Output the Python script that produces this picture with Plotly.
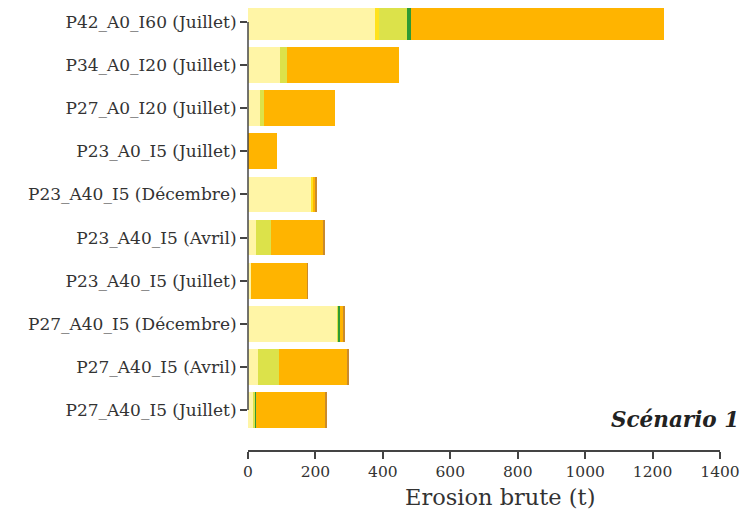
import plotly.graph_objects as go

categories = [
    "P42_A0_I60 (Juillet)",
    "P34_A0_I20 (Juillet)",
    "P27_A0_I20 (Juillet)",
    "P23_A0_I5 (Juillet)",
    "P23_A40_I5 (Décembre)",
    "P23_A40_I5 (Avril)",
    "P23_A40_I5 (Juillet)",
    "P27_A40_I5 (Décembre)",
    "P27_A40_I5 (Avril)",
    "P27_A40_I5 (Juillet)",
]

classe1 = [377, 95, 36, 0, 187, 24, 8, 265, 30, 16]
classe2 = [12, 0, 0, 0, 6, 0, 0, 0, 0, 0]
classe3 = [83, 22, 12, 0, 0, 43, 0, 4, 62, 6]
classe4 = [12, 0, 0, 0, 0, 0, 0, 4, 0, 2]
classe5 = [751, 330, 210, 85, 6, 157, 167, 9, 202, 206]
classe6 = [0, 0, 0, 0, 6, 3, 2, 6, 3, 2]

series = [
    ("Classe 1", classe1, "#FFF5A6"),
    ("Classe 2", classe2, "#FFE21C"),
    ("Classe 3", classe3, "#DCE24A"),
    ("Classe 4", classe4, "#2E9A34"),
    ("Classe 5", classe5, "#FFB400"),
    ("Classe 6", classe6, "#C98A2C"),
]

xticks = [0, 200, 400, 600, 800, 1000, 1200, 1400]

ypos = list(range(len(categories)))
cats_bt = categories[::-1]

fig = go.Figure()
for name, vals, col in series:
    fig.add_trace(go.Bar(
        y=ypos, x=vals[::-1], name=name, orientation="h",
        marker=dict(color=col, line=dict(width=0)),
        width=0.83, showlegend=False,
    ))

font_family = "DejaVu Serif"
txt = "#333333"

fig.update_layout(
    barmode="stack",
    width=744, height=505,
    margin=dict(l=240, r=32, t=0, b=63, autoexpand=False),
    plot_bgcolor="white", paper_bgcolor="white",
    font=dict(family=font_family, color=txt, size=15),
    xaxis=dict(
        range=[0, 1400], tickvals=xticks, ticktext=[str(v) for v in xticks],
        showline=True, linecolor="#444", linewidth=1.5,
        ticks="outside", ticklen=7, tickwidth=1.5, tickcolor="#444",
        showgrid=False, zeroline=False, automargin=False,
        tickfont=dict(size=15.5, family=font_family, color=txt),
    ),
    yaxis=dict(
        range=[-0.928, 9.325], tickvals=ypos, ticktext=cats_bt,
        showline=False, ticks="outside", ticklen=7, tickwidth=1.5, tickcolor="#444",
        showgrid=False, zeroline=False, automargin=False,
        tickfont=dict(size=17, family=font_family, color=txt),
    ),
)

# y-axis line spanning first to last category (R-style axis)
fig.add_shape(type="line", xref="paper", yref="y", x0=0, x1=0,
              y0=ypos[0], y1=ypos[-1], line=dict(color="#444", width=1.5))

# x-axis title (offset to the right as in the original)
fig.add_annotation(text="Erosion brute (t)", xref="paper", yref="paper",
                   x=0.534, y=-0.106, xanchor="center", yanchor="middle", showarrow=False,
                   font=dict(size=22.5, family=font_family, color=txt))

fig.add_annotation(text="<b><i>Scénario 1</i></b>", xref="paper", yref="paper",
                   x=1.044, y=0.068, xanchor="right", yanchor="middle", showarrow=False,
                   font=dict(size=21.5, family=font_family, color="#222"))

fig.write_html("out.html")
